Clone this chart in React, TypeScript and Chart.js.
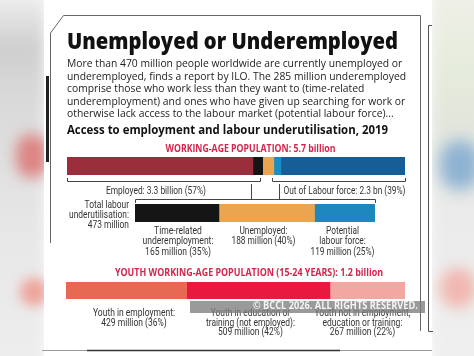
import React, { useEffect, useRef } from "react";
import { Chart, registerables } from "chart.js";

Chart.register(...registerables);

// ---------- data ----------
const workingAgeLabels = ["Employed (not underemployed)", "Time-related underemployment", "Unemployed", "Potential labour force", "Out of labour force (other)"];
const workingAgeValues = [3.135, 0.165, 0.188, 0.119, 2.093]; // billion
const workingAgeColors = ["#9a2f3b", "#151515", "#eaa54e", "#1c8cc4", "#175d96"];

const underutilLabels = ["Time-related underemployment", "Unemployed", "Potential labour force"];
const underutilValues = [165, 188, 119]; // million
const underutilColors = ["#151515", "#eaa54e", "#1d87be"];

const youthLabels = ["Youth in employment", "Youth in education or training", "Youth not in employment, education or training"];
const youthValues = [429, 509, 267]; // million
const youthColors = ["#e66a52", "#e8183f", "#f2a7a3"];

// ---------- text ----------
const titleText = "Unemployed or Underemployed";
const paragraphLines = [
  "More than 470 million people worldwide are currently unemployed or",
  "underemployed, finds a report by ILO. The 285 million underemployed",
  "comprise those who work less than they want to (time-related",
  "underemployment) and ones who have given up searching for work or",
  "otherwise lack access to the labour market (potential labour force)...",
];
const subtitleText = "Access to employment and labour underutilisation, 2019";
const workingAgeHeading = "WORKING-AGE POPULATION: 5.7 billion";
const youthHeading = "YOUTH WORKING-AGE POPULATION (15-24 YEARS): 1.2 billion";

const F_TITLE = '800 22px "Open Sans"';
const F_PARA = '400 11px "Open Sans"';
const F_SUB = '700 12.5px "Open Sans"';
const F_HEAD = '700 10px "Open Sans"';
const F_LAB = '400 10.5px Roboto';
const F_WM = '700 10px "Open Sans"';

type Blk = {
  lines: string[];
  x: number; // anchor: left / center / right
  align: "left" | "center" | "right";
  y: number; // first baseline
  lh: number;
  w: number; // target width of widest line
  font: string;
  color: string;
};

const LAB = "#333";
const blocks: Blk[] = [
  { lines: [titleText], x: 67, align: "left", y: 49, lh: 26, w: 331, font: F_TITLE, color: "#111" },
  { lines: paragraphLines, x: 67, align: "left", y: 68, lh: 12.4, w: 339, font: F_PARA, color: "#222" },
  { lines: [subtitleText], x: 67, align: "left", y: 134, lh: 15, w: 321, font: F_SUB, color: "#111" },
  { lines: [workingAgeHeading], x: 250, align: "center", y: 152, lh: 12, w: 170, font: F_HEAD, color: "#d3254d" },
  { lines: ["Employed: 3.3 billion (57%)"], x: 156, align: "center", y: 193.5, lh: 11, w: 100, font: F_LAB, color: LAB },
  { lines: ["Out of Labour force: 2.3 bn (39%)"], x: 344, align: "center", y: 193.5, lh: 11, w: 122, font: F_LAB, color: LAB },
  { lines: ["Total labour", "underutilisation:", "473 million"], x: 129, align: "right", y: 208, lh: 10, w: 60, font: F_LAB, color: LAB },
  { lines: ["Time-related", "underemployment:", "165 million (35%)"], x: 177.5, align: "center", y: 234.5, lh: 10.5, w: 71, font: F_LAB, color: LAB },
  { lines: ["Unemployed:", "188 million (40%)"], x: 263, align: "center", y: 234.5, lh: 10.5, w: 64, font: F_LAB, color: LAB },
  { lines: ["Potential", "labour force:", "119 million (25%)"], x: 342, align: "center", y: 234.5, lh: 10.5, w: 64, font: F_LAB, color: LAB },
  { lines: [youthHeading], x: 249, align: "center", y: 275.5, lh: 12, w: 268, font: F_HEAD, color: "#d3254d" },
  { lines: ["Youth in employment:", "429 million (36%)"], x: 134, align: "center", y: 316.5, lh: 9.5, w: 82, font: F_LAB, color: LAB },
  { lines: ["Youth in education or", "training (not employed):", "509 million (42%)"], x: 250.5, align: "center", y: 316.5, lh: 9.3, w: 89, font: F_LAB, color: LAB },
  { lines: ["Youth not in employment,", "education or training:", "267 million (22%)"], x: 362, align: "center", y: 316.5, lh: 9.3, w: 96, font: F_LAB, color: LAB },
];

let measureCtx: CanvasRenderingContext2D | null = null;
function measure(text: string, font: string) {
  if (!measureCtx) measureCtx = document.createElement("canvas").getContext("2d");
  const ctx = measureCtx!;
  ctx.font = font;
  const m = ctx.measureText(text);
  const size = parseFloat(font.split(" ")[1]);
  const asc = m.fontBoundingBoxAscent || 0.8 * size;
  const desc = m.fontBoundingBoxDescent || 0.2 * size;
  return { w: m.width, asc, desc };
}

function Block({ b, z = 1 }: { b: Blk; z?: number }) {
  const ms = b.lines.map((l) => measure(l, b.font));
  const natural = Math.max(...ms.map((m) => m.w));
  const { asc, desc } = ms[0];
  const scale = b.w / natural;
  const boxW = Math.ceil(natural) + 2;
  const left = b.align === "left" ? b.x : b.align === "right" ? b.x - boxW : b.x - boxW / 2;
  const top = b.y - (asc + (b.lh - asc - desc) / 2);
  return (
    <div
      style={{
        position: "absolute",
        left,
        top,
        width: boxW,
        font: b.font,
        lineHeight: `${b.lh}px`,
        color: b.color,
        whiteSpace: "pre",
        textAlign: b.align,
        transform: `scaleX(${scale})`,
        transformOrigin: `${b.align === "center" ? "center" : b.align} top`,
        zIndex: z,
      }}
    >
      {b.lines.join("\n")}
    </div>
  );
}

function StackBar({ labels, values, colors, left, top, width, height }: any) {
  const ref = useRef<HTMLCanvasElement>(null);
  useEffect(() => {
    const total = values.reduce((a: number, b: number) => a + b, 0);
    const chart = new Chart(ref.current!, {
      type: "bar",
      data: {
        labels: [""],
        datasets: values.map((v: number, i: number) => ({
          label: labels[i],
          data: [v],
          backgroundColor: colors[i],
          borderWidth: 0,
          barPercentage: 1,
          categoryPercentage: 1,
        })),
      },
      options: {
        indexAxis: "y",
        responsive: false,
        animation: false,
        layout: { padding: 0 },
        plugins: { legend: { display: false }, tooltip: { enabled: false } },
        scales: {
          x: { stacked: true, display: false, min: 0, max: total },
          y: { stacked: true, display: false },
        },
      },
    });
    return () => chart.destroy();
  }, []);
  return <canvas ref={ref} width={width} height={height} style={{ position: "absolute", left, top, width, height }} />;
}

export default function App() {
  return (
    <div style={{ position: "fixed", left: 0, top: 0, width: 474, height: 356, overflow: "hidden", background: "#fafafa" }}>
      {/* blurred surroundings */}
      <div style={{ position: "absolute", left: -20, top: -10, width: 64, height: 380, background: "linear-gradient(#f2f2f2 0%, #cfcfcf 15%, #dadada 30%, #e6e6e6 60%, #eeeeee 100%)", filter: "blur(6px)" }} />
      <div style={{ position: "absolute", left: 16, top: 134, width: 32, height: 44, borderRadius: 20, background: "#dc8584", filter: "blur(7px)" }} />
      <div style={{ position: "absolute", left: 20, top: 278, width: 28, height: 28, borderRadius: 14, background: "#eea49a", filter: "blur(6px)" }} />
      <div style={{ position: "absolute", left: 432, top: -10, width: 60, height: 380, background: "linear-gradient(#f0f0ea 0%, #e6ecdc 20%, #e2e6dc 35%, #ebebeb 60%, #f0f0f0 100%)", filter: "blur(6px)" }} />
      <div style={{ position: "absolute", left: 440, top: 140, width: 40, height: 50, borderRadius: 20, background: "#8db2d2", filter: "blur(8px)" }} />
      <div style={{ position: "absolute", left: 440, top: 268, width: 36, height: 40, borderRadius: 18, background: "#f0b8b0", filter: "blur(7px)" }} />
      {/* card */}
      <div style={{ position: "absolute", left: 44, top: 0, width: 388, height: 356, background: "#fff" }} />
      <svg width={474} height={356} style={{ position: "absolute", left: 0, top: 0 }}>
        <path d="M50.5,243 L50.5,33 L63.5,15.5 L420.5,15.5 L420.5,331" fill="none" stroke="#666" strokeWidth={1} />
        <path d="M432,25.5 L428.5,25.5 L428.5,331.5 L433,331.5" fill="none" stroke="#555" strokeWidth={1} />
        <rect x={46} y={76} width={3} height={86} fill="#222" />
        <path d="M67.5,178 L67.5,181.5 L260.5,181.5 L260.5,178" fill="none" stroke="#444" strokeWidth={1} />
        <path d="M272.5,178 L272.5,181.5 L405.5,181.5 L405.5,178" fill="none" stroke="#444" strokeWidth={1} />
        <path d="M251.5,184 L251.5,200 M279.5,184 L279.5,200" fill="none" stroke="#444" strokeWidth={1} />
        <path d="M135.5,203 L135.5,199.5 L375.5,199.5 L375.5,203" fill="none" stroke="#444" strokeWidth={1} />
        <line x1={42} y1={350.5} x2={432} y2={350.5} stroke="#999" strokeWidth={1} />
        <line x1={87} y1={350.5} x2={340} y2={350.5} stroke="#333" strokeWidth={1.5} />
      </svg>
      <StackBar labels={workingAgeLabels} values={workingAgeValues} colors={workingAgeColors} left={67} top={157} width={338} height={18} />
      <StackBar labels={underutilLabels} values={underutilValues} colors={underutilColors} left={135} top={204} width={240} height={18} />
      <StackBar labels={youthLabels} values={youthValues} colors={youthColors} left={66} top={282} width={339} height={17} />
      {blocks.map((b, i) => (
        <Block key={i} b={b} />
      ))}
      {/* watermark */}
      <div style={{ position: "absolute", left: 190, top: 301, width: 235, height: 12, background: "rgba(125,125,125,0.78)", zIndex: 3 }} />
      <Block
        b={{ lines: ["© BCCL 2026. ALL RIGHTS RESERVED."], x: 253, align: "left", y: 309, lh: 11, w: 165, font: F_WM, color: "#f4f4f4" }}
        z={4}
      />
    </div>
  );
}
